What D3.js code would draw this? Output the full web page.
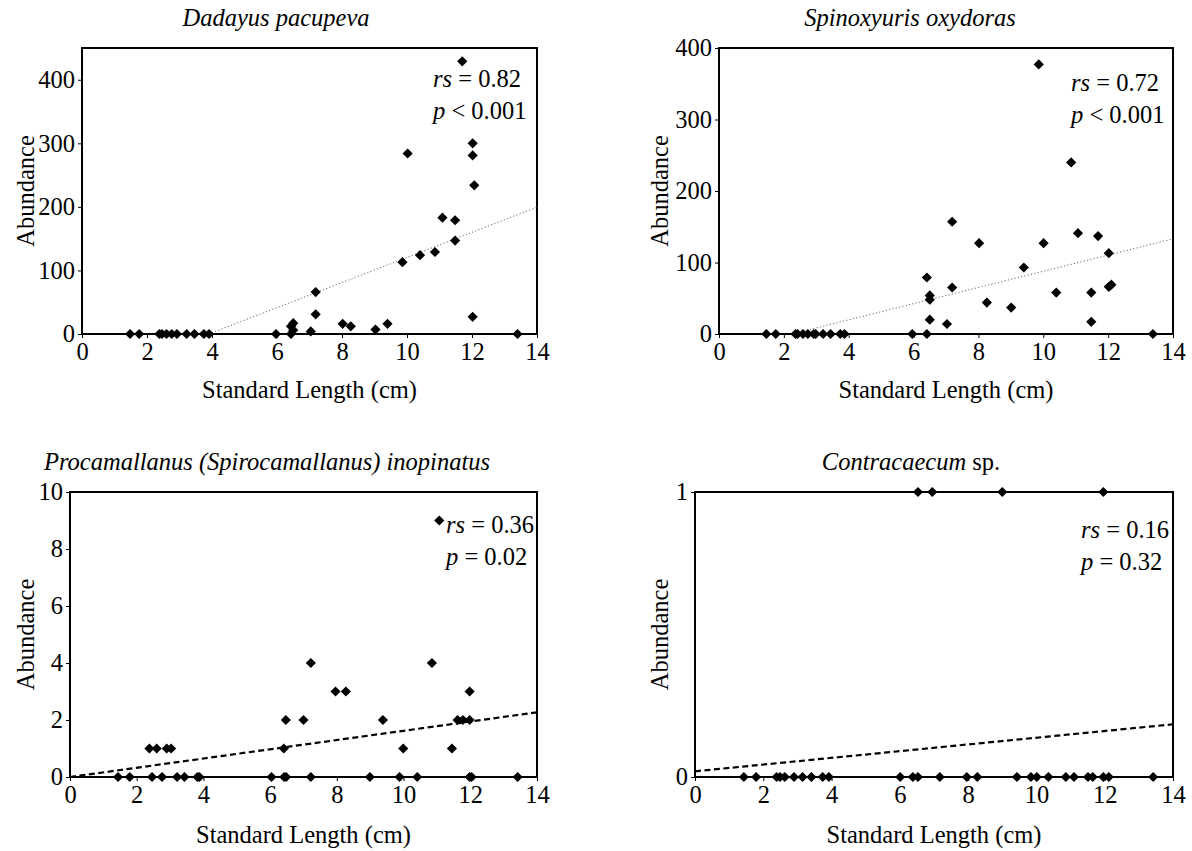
<!DOCTYPE html>
<html lang="en">
<head>
<meta charset="UTF-8">
<script src="https://cdnjs.cloudflare.com/ajax/libs/d3/7.8.5/d3.min.js"></script>
<title>Abundance vs Standard Length</title>
<style>
  body { margin: 0; background: #fff; }
</style>
</head>
<body>
<div id="container"></div>
<script>
// ---- data ----
// panel titles: [text, italic?] parts
var titles = [
  [["Dadayus pacupeva", true]],
  [["Spinoxyuris oxydoras", true]],
  [["Procamallanus (Spirocamallanus) inopinatus", true]],
  [["Contracaecum", true], [" sp.", false]]
];
var rsValues = ["0.82", "0.72", "0.36", "0.16"];
var pSigns   = ["<", "<", "=", "="];
var pValues  = ["0.001", "0.001", "0.02", "0.32"];

var xTicks = [0, 2, 4, 6, 8, 10, 12, 14];
var yTicks1 = [0, 100, 200, 300, 400];
var yTicks2 = [0, 100, 200, 300, 400];
var yTicks3 = [0, 2, 4, 6, 8, 10];
var yTicks4 = [0, 1];

// Dadayus pacupeva
var sl1 = [1.48, 1.76, 2.38, 2.46, 2.6, 2.76, 2.92, 3.22, 3.46, 3.75, 3.91,
           5.97, 6.43, 6.43, 6.5, 6.5, 7.04, 7.19, 7.19, 8.02, 8.27, 9.03, 9.4, 9.86,
           10.02, 10.4, 10.86, 11.09, 11.48, 11.48, 11.7, 12.02, 12.02, 12.02, 12.07, 13.4];
var ab1 = [0, 0, 0, 0, 0, 0, 0, 0, 0, 0, 0,
           0, 0, 12, 17, 6, 4, 66, 31, 16, 12, 7, 16, 113,
           284, 124, 129, 183, 179, 147, 429, 300, 281, 27, 234, 0];
var fit1 = [[3.9, 0], [14, 199.5]];

// Spinoxyuris oxydoras
var sl2 = [1.46, 1.75, 2.36, 2.42, 2.59, 2.74, 2.92, 2.98, 3.21, 3.44, 3.74, 3.87,
           5.96, 6.41, 6.41, 6.5, 6.5, 6.5, 7.03, 7.19, 7.19, 8.02, 8.26, 9.01, 9.4, 9.86,
           10.01, 10.4, 10.86, 11.07, 11.48, 11.48, 11.69, 12.02, 12.02, 12.1, 13.38];
var ab2 = [0, 0, 0, 0, 0, 0, 0, 0, 0, 0, 0, 0,
           0, 0, 79, 54, 48, 20, 14, 157, 65, 127, 44, 37, 93, 377,
           127, 58, 240, 141, 58, 17, 137, 113, 66, 69, 0];
var fit2 = [[2.6, 4], [14, 133]];

// Procamallanus (Spirocamallanus) inopinatus
var sl3 = [1.44, 1.79, 2.46, 2.76, 3.21, 3.43, 3.82, 3.88, 6.04, 6.42, 6.48, 7.22, 8.99, 9.88, 10.41, 11.98, 12.04, 13.42,
           2.38, 2.6, 2.9, 3.03, 6.41, 9.99, 11.45,
           6.47, 7.0, 9.38, 11.62, 11.78, 11.98,
           7.96, 8.27, 11.98,
           7.22, 10.85,
           11.07];
var ab3 = [0, 0, 0, 0, 0, 0, 0, 0, 0, 0, 0, 0, 0, 0, 0, 0, 0, 0,
           1, 1, 1, 1, 1, 1, 1,
           2, 2, 2, 2, 2, 2,
           3, 3, 3,
           4, 4,
           9];
var fit3 = [[0, 0], [14, 2.27]];

// Contracaecum sp.
var sl4 = [1.43, 1.79, 2.39, 2.49, 2.63, 2.9, 3.15, 3.41, 3.74, 3.92, 6.01, 6.38, 6.53, 7.17,
           7.96, 8.27, 9.43, 9.84, 10.01, 10.35, 10.86, 11.1, 11.51, 11.65, 11.96, 12.12, 13.42,
           6.53, 6.95, 9.0, 11.96];
var ab4 = [0, 0, 0, 0, 0, 0, 0, 0, 0, 0, 0, 0, 0, 0,
           0, 0, 0, 0, 0, 0, 0, 0, 0, 0, 0, 0, 0,
           1, 1, 1, 1];
var fit4 = [[0, 0.02], [14, 0.185]];

// ---- layout ----
var width = 1192, height = 851;
var serif = "'Liberation Serif'";
var fs = 24.5;
var panels = [
  {x: sl1, y: ab1, fit: fit1, yTicks: yTicks1, ymax: 450, left: 82,  right: 537,  top: 48,  bottom: 334, labelX: 34,  titleX: 276, titleY: 26,  xlabY: 398, statX: 433,  statY: 87,  fitStyle: "dot"},
  {x: sl2, y: ab2, fit: fit2, yTicks: yTicks2, ymax: 400, left: 719, right: 1173, top: 48,  bottom: 334, labelX: 668, titleX: 910, titleY: 26,  xlabY: 398, statX: 1071, statY: 91,  fitStyle: "dot"},
  {x: sl3, y: ab3, fit: fit3, yTicks: yTicks3, ymax: 10,  left: 70,  right: 537,  top: 492, bottom: 777, labelX: 34,  titleX: 267, titleY: 470, xlabY: 843, statX: 446,  statY: 533, fitStyle: "dash"},
  {x: sl4, y: ab4, fit: fit4, yTicks: yTicks4, ymax: 1,   left: 695, right: 1173, top: 492, bottom: 777, labelX: 668, titleX: 911, titleY: 470, xlabY: 843, statX: 1081, statY: 538, fitStyle: "dash"}
];

var svg = d3.select("#container").append("svg")
  .attr("width", width).attr("height", height)
  .style("font-family", serif)
  .style("font-size", fs + "px");

panels.forEach(function (p, i) {
  var x = d3.scaleLinear().domain([0, 14]).range([p.left, p.right]);
  var y = d3.scaleLinear().domain([0, p.ymax]).range([p.bottom, p.top]);
  var g = svg.append("g");

  // title
  var t = g.append("text").attr("x", p.titleX).attr("y", p.titleY).attr("text-anchor", "middle");
  titles[i].forEach(function (part) {
    t.append("tspan").attr("font-style", part[1] ? "italic" : "normal").text(part[0]);
  });

  // axes
  var xAxis = d3.axisBottom(x).tickValues(xTicks).tickFormat(d3.format("d")).tickSize(4).tickPadding(5);
  var gx = g.append("g").attr("transform", "translate(0," + p.bottom + ")").call(xAxis);
  var yAxis = d3.axisLeft(y).tickValues(p.yTicks).tickFormat(d3.format("d")).tickSize(4).tickPadding(3);
  var gy = g.append("g").attr("transform", "translate(" + p.left + ",0)").call(yAxis);
  [gx, gy].forEach(function (a) {
    a.attr("font-family", null).attr("font-size", null);
    a.select(".domain").remove();
    a.selectAll(".tick line").attr("stroke", "#000");
    a.selectAll(".tick text").attr("fill", "#000");
  });

  // frame
  g.append("rect")
    .attr("x", p.left).attr("y", p.top)
    .attr("width", p.right - p.left).attr("height", p.bottom - p.top)
    .attr("fill", "none").attr("stroke", "#000").attr("stroke-width", 2);

  // trend line
  var line = d3.line().x(function (d) { return x(d[0]); }).y(function (d) { return y(d[1]); });
  g.append("path").datum(p.fit)
    .attr("d", line)
    .attr("fill", "none")
    .attr("stroke", p.fitStyle === "dot" ? "#666" : "#000")
    .attr("stroke-width", p.fitStyle === "dot" ? 1 : 2.2)
    .attr("stroke-dasharray", p.fitStyle === "dot" ? "1.2,2.2" : "6,3.5");

  // points
  var sym = d3.symbol().type(d3.symbolSquare).size(52);
  g.append("g").selectAll("path")
    .data(d3.range(p.x.length))
    .join("path")
      .attr("d", sym)
      .attr("fill", "#000")
      .attr("transform", function (k) { return "translate(" + x(p.x[k]) + "," + y(p.y[k]) + ") rotate(45)"; });

  // statistics
  var s1 = g.append("text").attr("x", p.statX).attr("y", p.statY);
  s1.append("tspan").attr("font-style", "italic").text("rs");
  s1.append("tspan").text(" = " + rsValues[i]);
  var s2 = g.append("text").attr("x", p.statX).attr("y", p.statY + 32);
  s2.append("tspan").attr("font-style", "italic").text("p");
  s2.append("tspan").text(" " + pSigns[i] + " " + pValues[i]);

  // axis labels
  g.append("text")
    .attr("x", (p.left + p.right) / 2).attr("y", p.xlabY)
    .attr("text-anchor", "middle")
    .text("Standard Length (cm)");
  g.append("text")
    .attr("transform", "translate(" + p.labelX + "," + (p.top + p.bottom) / 2 + ") rotate(-90)")
    .attr("text-anchor", "middle")
    .text("Abundance");
});
</script>
</body>
</html>
